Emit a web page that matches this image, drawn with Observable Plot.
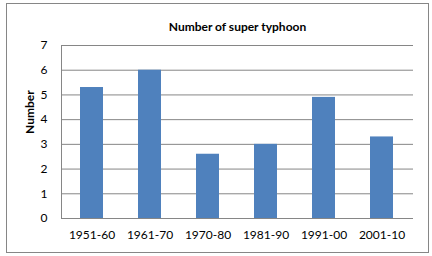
<!DOCTYPE html>
<html>
<head>
<meta charset="utf-8">
<script src="https://cdn.jsdelivr.net/npm/d3@7"></script>
<script src="https://cdn.jsdelivr.net/npm/@observablehq/plot@0.6"></script>
<style>
  html, body { margin: 0; padding: 0; background: #fff; }
  svg { display: block; }
</style>
</head>
<body>
<div id="chart"></div>
<script>
const title = "Number of super typhoon";
const yLabel = "Number";
const decades = ["1951-60", "1961-70", "1970-80", "1981-90", "1991-00", "2001-10"];
const counts = [5.3, 6.0, 2.6, 3.0, 4.9, 3.3];
const yTicks = [0, 1, 2, 3, 4, 5, 6, 7];

const data = decades.map((d, i) => ({decade: d, count: counts[i]}));

const W = 432, H = 256, mL = 61, mR = 19, mT = 45, mB = 38;
const font = "Lato, 'Open Sans', sans-serif";

const plot = Plot.plot({
  width: W,
  height: H,
  marginLeft: mL,
  marginRight: mR,
  marginTop: mT,
  marginBottom: mB,
  style: {fontFamily: font, fontSize: "12px", color: "#000", background: "#fff"},
  x: {domain: decades, paddingInner: 0.6, paddingOuter: 0.3, label: null},
  y: {domain: [0, 7], label: null},
  marks: [
    Plot.gridY(yTicks, {stroke: "#868686", strokeOpacity: 1, strokeWidth: 1}),
    Plot.barY(data, {x: "decade", y: "count", fill: "#4F81BD"}),
    Plot.axisY(yTicks, {tickSize: 0, tickPadding: 14, label: null, fontSize: 12}),
    Plot.axisX({tickSize: 0, tickPadding: 12, label: null, fontSize: 12}),
    Plot.text([title], {frameAnchor: "top", dy: -23, fontWeight: "bold", fontSize: 12}),
    Plot.text([yLabel], {frameAnchor: "left", dx: -31, dy: 2, rotate: -90, fontWeight: "bold", fontSize: 12})
  ]
});

const svg = d3.select(plot);
// left axis line
svg.append("line")
  .attr("x1", mL + 0.5).attr("x2", mL + 0.5)
  .attr("y1", mT).attr("y2", H - mB + 0.5)
  .attr("stroke", "#868686");
// chart border
svg.append("rect")
  .attr("x", 6.5).attr("y", 3.5)
  .attr("width", 422).attr("height", 249)
  .attr("fill", "none")
  .attr("stroke", "#868686");

document.getElementById("chart").appendChild(plot);
</script>
</body>
</html>
